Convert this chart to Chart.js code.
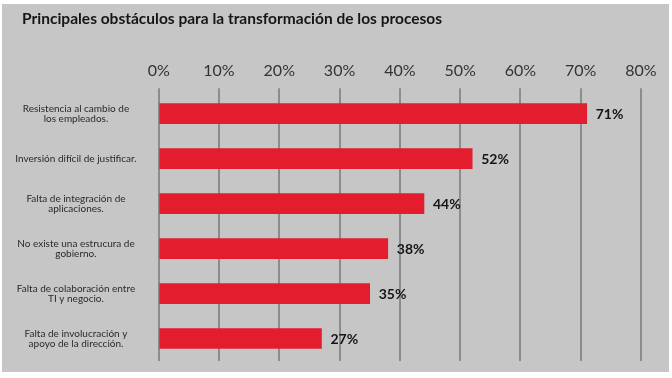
<!DOCTYPE html>
<html>
<head>
<meta charset="utf-8">
<script src="https://cdn.jsdelivr.net/npm/chart.js@4.4.0/dist/chart.umd.min.js"></script>
<style>
  html, body { margin: 0; padding: 0; background: #fff; }
  #wrap { width: 672px; height: 378px; position: relative; }
</style>
</head>
<body>
<div id="wrap"><canvas id="chart" width="672" height="378"></canvas></div>
<script>
// --- DATA ---
const titleText = 'Principales obstáculos para la transformación de los procesos';
const categories = [
  ['Resistencia al cambio de', 'los empleados.'],
  ['Inversión difícil de justificar.'],
  ['Falta de integración de', 'aplicaciones.'],
  ['No existe una estrucura de', 'gobierno.'],
  ['Falta de colaboración entre', 'TI y negocio.'],
  ['Falta de involucración y', 'apoyo de la dirección.']
];
const values = [71, 52, 44, 38, 35, 27];
const xTicks = [0, 10, 20, 30, 40, 50, 60, 70, 80];

const RED = '#e31d2e';
const FONT = 'Lato, "Open Sans", sans-serif';

// gray panel + title
const panelBg = {
  id: 'panelBg',
  beforeDraw(chart) {
    const c = chart.ctx;
    c.save();
    c.fillStyle = '#c6c6c6';
    c.fillRect(2, 4, 667, 368);
    c.font = 'bold 15.5px ' + FONT;
    c.fillStyle = '#161616';
    c.textAlign = 'left';
    c.textBaseline = 'middle';
    c.fillText(titleText, 22, 19);
    c.restore();
  }
};

// value labels at bar ends
const valueLabels = {
  id: 'valueLabels',
  afterDatasetsDraw(chart) {
    const c = chart.ctx;
    const meta = chart.getDatasetMeta(0);
    c.save();
    c.font = 'bold 14px ' + FONT;
    c.fillStyle = '#151515';
    c.textAlign = 'left';
    c.textBaseline = 'middle';
    meta.data.forEach((bar, i) => {
      c.fillText(values[i] + '%', bar.x + 9, bar.y + 1);
    });
    c.restore();
  }
};

new Chart(document.getElementById('chart'), {
  type: 'bar',
  data: {
    labels: categories,
    datasets: [{
      data: values,
      backgroundColor: RED,
      borderWidth: 0,
      barThickness: 20
    }]
  },
  options: {
    indexAxis: 'y',
    responsive: false,
    animation: false,
    events: [],
    layout: { padding: { left: 2, right: 31, top: 53, bottom: 17 } },
    plugins: {
      legend: { display: false },
      tooltip: { enabled: false },
      title: { display: false }
    },
    scales: {
      x: {
        position: 'top',
        min: 0,
        max: 80,
        afterBuildTicks: s => { s.ticks = xTicks.map(v => ({ value: v })); },
        ticks: {
          color: '#333',
          font: { family: FONT, size: 16 },
          padding: 8,
          callback: v => v + '%'
        },
        grid: { color: '#8c8c8c', lineWidth: 2, drawTicks: true, tickLength: 3 },
        border: { display: false }
      },
      y: {
        afterFit: s => { s.width = 156.7; s.paddingTop = 0; s.paddingBottom = 0; },
        ticks: {
          color: '#2a2a2a',
          font: { family: FONT, size: 10, lineHeight: 1.0 },
          crossAlign: 'center',
          padding: 14
        },
        grid: { display: false },
        border: { display: false }
      }
    }
  },
  plugins: [panelBg, valueLabels]
});
</script>
</body>
</html>
